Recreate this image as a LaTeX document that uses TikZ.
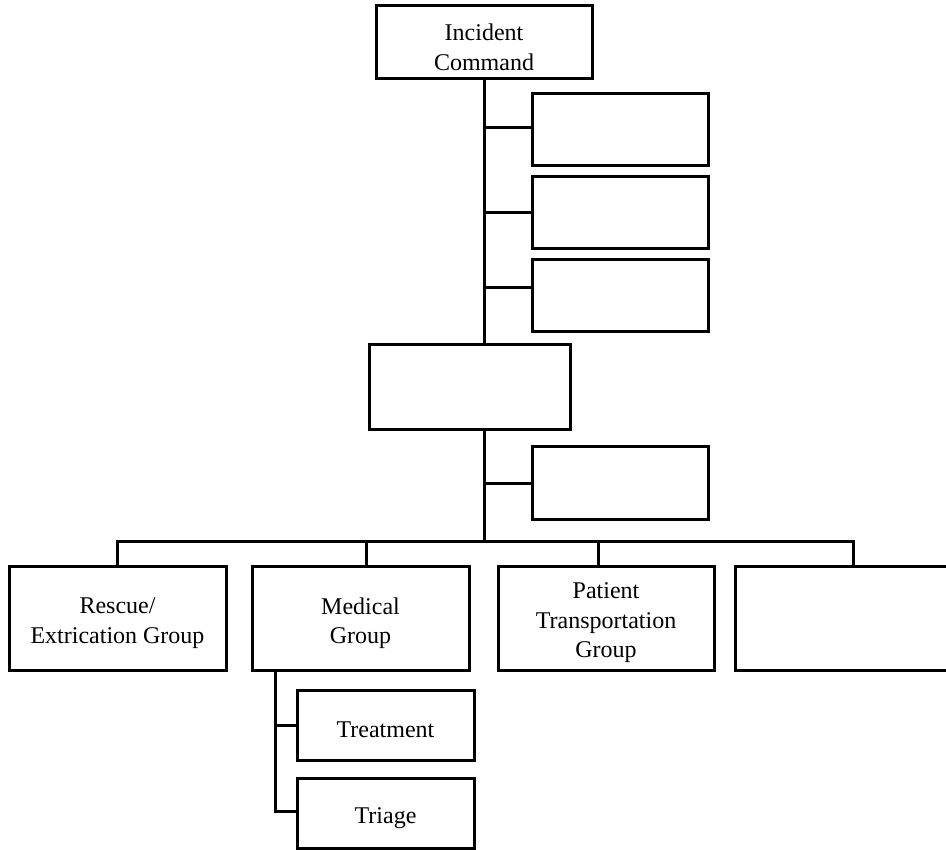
\documentclass[tikz,border=0pt]{standalone}
\usepackage{fontspec}
\setmainfont{Liberation Serif}
\begin{document}
\begin{tikzpicture}[x=1pt,y=-1pt,
  box/.style={draw, line width=3pt, inner sep=0pt},
  caption/.style={label={[align=center, inner sep=0pt, yshift=-5pt,
                   font=\fontsize{24}{29.5}\selectfont]center:#1}},
  conn/.style={line width=3pt}]
  \clip (0,0) rectangle (946,850);
  \fill[white] (0,0) rectangle (946,850);

  % command level
  \node[box, minimum width=216, minimum height=73, caption={Incident\\Command}] (ic) at (484,42.5) {};

  % staff positions on the right of the trunk
  \node[box, minimum width=176, minimum height=72] (s1) at (620,130) {};
  \node[box, minimum width=176, minimum height=72] (s2) at (620,213) {};
  \node[box, minimum width=176, minimum height=72] (s3) at (620,296) {};

  % branch level
  \node[box, minimum width=201, minimum height=85] (mid) at (469.5,387.5) {};
  \node[box, minimum width=176, minimum height=72] (s4) at (620,483) {};

  % groups
  \node[box, minimum width=217, minimum height=104, caption={Rescue/\\Extrication Group}] (rescue) at (117.5,618) {};
  \node[box, minimum width=217, minimum height=104, caption={Medical\\Group}] (med) at (360.5,618) {};
  \node[box, minimum width=216, minimum height=104, caption={Patient\\Transportation\\Group}] (pat) at (606,618) {};
  \node[box, minimum width=236, minimum height=104] (extra) at (853,618) {};

  % units under the medical group
  \node[box, minimum width=177, minimum height=70, caption={Treatment}] (treat) at (385.5,725) {};
  \node[box, minimum width=177, minimum height=70, caption={Triage}] (triage) at (385.5,813) {};

  % trunk from command down to the groups bar
  \draw[conn] (ic.south) -- (ic.south |- mid.north);
  \draw[conn] (mid.south -| ic.south) -- coordinate[pos=1] (hub) (ic.south |- 0,541);

  % staff ticks
  \draw[conn] ([yshift=2pt]s1.west) -- ([yshift=2pt]s1.west -| ic.south);
  \draw[conn] (s2.west) -- (s2.west -| ic.south);
  \draw[conn] ([yshift=8pt]s3.west) -- ([yshift=8pt]s3.west -| ic.south);
  \draw[conn] (s4.west) -- (s4.west -| ic.south);

  % groups bar and drops
  \draw[conn] (rescue.north) |- (hub) -| (extra.north);
  \draw[conn] ([xshift=5.5pt]med.north) -- ([xshift=5.5pt]med.north |- hub);
  \draw[conn] ([xshift=-8pt]pat.north) -- ([xshift=-8pt]pat.north |- hub);

  % medical sub-units
  \draw[conn] ([xshift=25pt]med.south west) coordinate (mtrunk) |- ([yshift=2pt]triage.west);
  \draw[conn] (treat.west) -- (treat.west -| mtrunk);
\end{tikzpicture}
\end{document}
